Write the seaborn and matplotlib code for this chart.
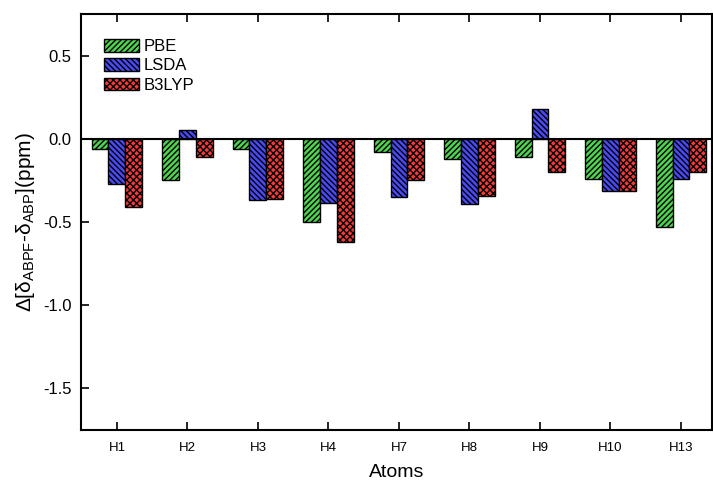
import matplotlib
matplotlib.use("Agg")
import matplotlib.pyplot as plt
import seaborn as sns
import pandas as pd
from matplotlib.patches import Patch

atoms = ["H1", "H2", "H3", "H4", "H7", "H8", "H9", "H10", "H13"]
pbe = [-0.06, -0.245, -0.06, -0.50, -0.08, -0.12, -0.11, -0.24, -0.53]
lsda = [-0.27, 0.05, -0.37, -0.385, -0.35, -0.39, 0.18, -0.315, -0.24]
b3lyp = [-0.41, -0.11, -0.365, -0.62, -0.25, -0.345, -0.20, -0.315, -0.20]
methods = ["PBE", "LSDA", "B3LYP"]

colors = {"PBE": "#4fd44f", "LSDA": "#4a4af5", "B3LYP": "#f53a3a"}
hatches = {"PBE": "//////", "LSDA": "\\\\\\\\\\\\", "B3LYP": "xxxxx"}

rows = []
for m, vals in zip(methods, [pbe, lsda, b3lyp]):
    for a, v in zip(atoms, vals):
        rows.append({"Atoms": a, "Method": m, "Value": v})
df = pd.DataFrame(rows)

sns.set_style("ticks")
plt.rcParams["font.family"] = ["Liberation Sans", "DejaVu Sans"]
plt.rcParams["hatch.linewidth"] = 1.0
plt.rcParams["hatch.color"] = "black"
for k in ["text.color", "axes.labelcolor", "xtick.color", "ytick.color", "axes.edgecolor"]:
    plt.rcParams[k] = "black"

fig = plt.figure(figsize=(7.13, 4.82), dpi=100)
ax = fig.add_axes([0.1136, 0.108, 0.885, 0.863])

sns.barplot(data=df, x="Atoms", y="Value", hue="Method", order=atoms,
            hue_order=methods, palette=colors, width=0.72, ax=ax,
            edgecolor="black", linewidth=1.0, saturation=1, legend=False,
            errorbar=None)

for cont, m in zip(ax.containers, methods):
    for bar in cont:
        bar.set_hatch(hatches[m])
        bar.set_edgecolor("black")

ax.axhline(0, color="black", lw=1.5, zorder=5)
ax.set_ylim(-1.75, 0.75)
ax.set_xlim(-0.51, 8.44)
ax.set_yticks([0.5, 0.0, -0.5, -1.0, -1.5])
ax.set_yticklabels(["0.5", "0.0", "-0.5", "-1.0", "-1.5"], fontsize=12)
ax.tick_params(axis="y", direction="in", length=6, width=1.2, right=False, pad=7)
ax.tick_params(axis="x", direction="in", length=5.5, width=1.2, top=True,
               labelsize=9.5, pad=9)
for s in ax.spines.values():
    s.set_linewidth(1.5)
    s.set_visible(True)
    s.set_color("black")

ax.set_xlabel("Atoms", fontsize=14, labelpad=7)
ax.set_ylabel("Δ[δ$_{\\mathregular{ABPF}}$-δ$_{\\mathregular{ABP}}$](ppm)", fontsize=15)
ax.yaxis.set_label_coords(-0.069, 0.5)

handles = [Patch(facecolor=colors[m], edgecolor="black", hatch=hatches[m], label=m)
           for m in methods]
ax.legend(handles=handles, loc="upper left", bbox_to_anchor=(0.036, 0.94),
          frameon=False, fontsize=12, handlelength=2.1, handleheight=0.8,
          labelspacing=0.25, handletextpad=0.3, borderaxespad=0, borderpad=0)

fig.savefig("out.png", dpi=100)
